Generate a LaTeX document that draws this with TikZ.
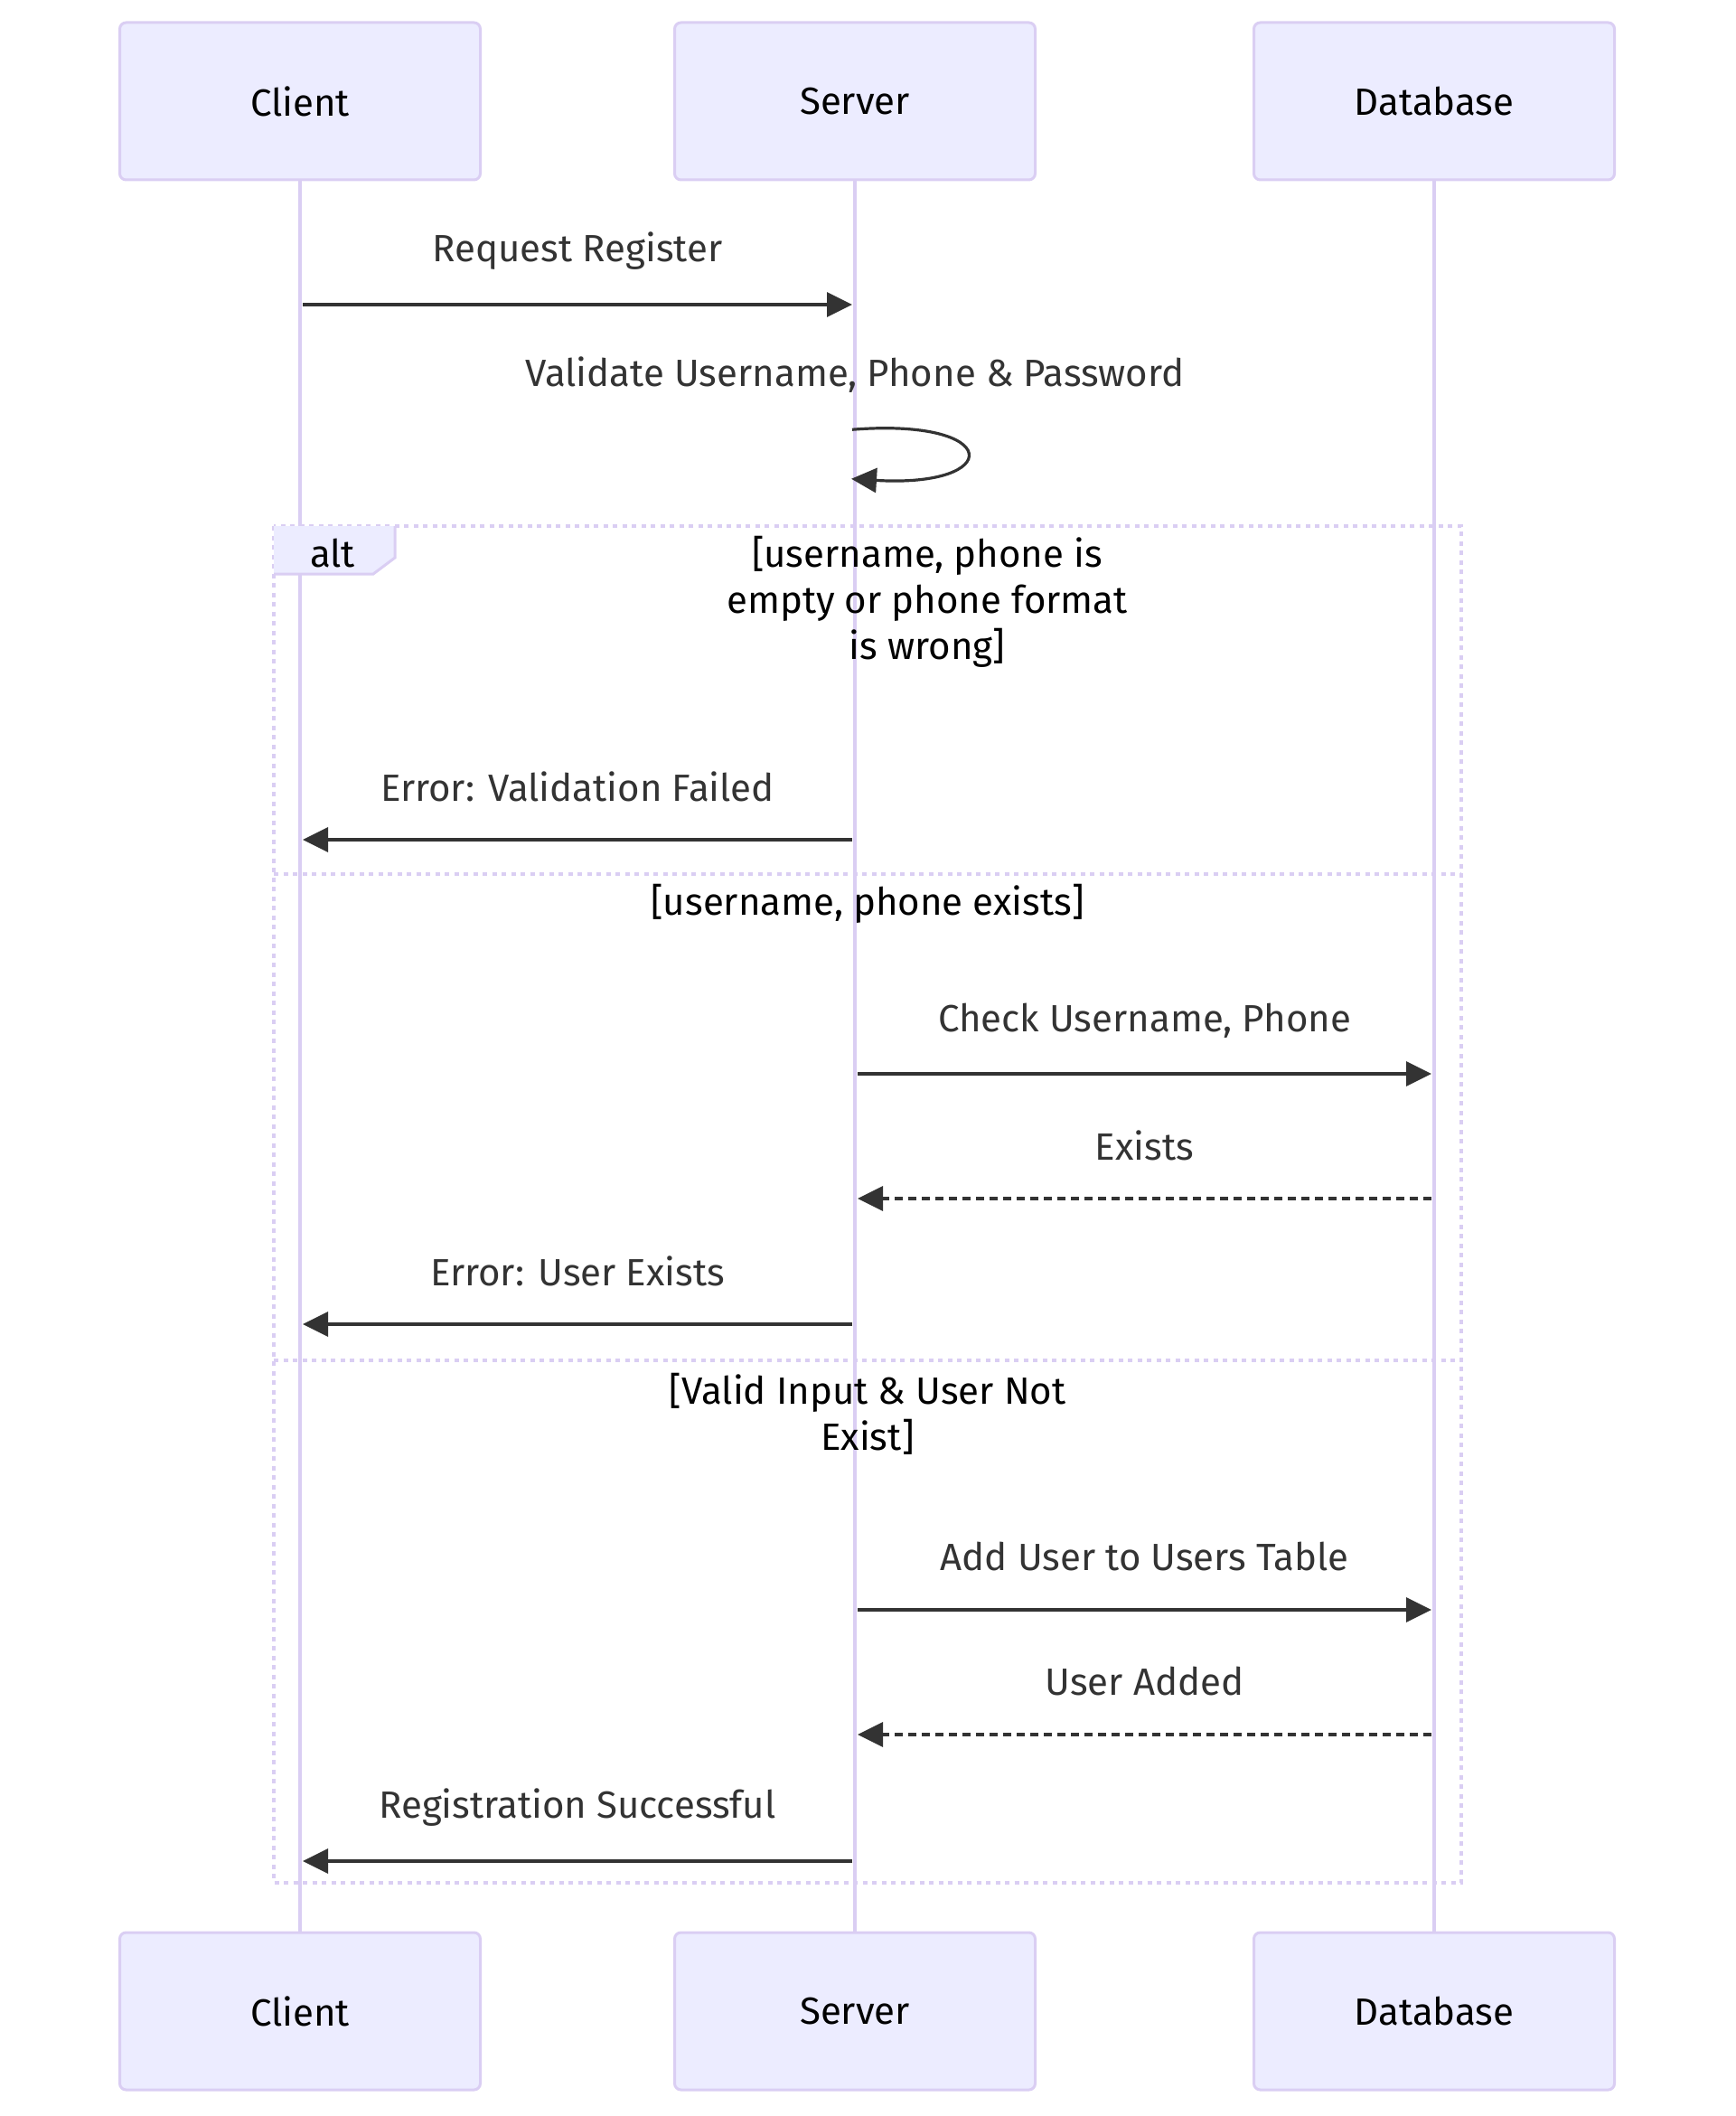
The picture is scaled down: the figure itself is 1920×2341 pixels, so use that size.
\documentclass[tikz,border=0pt]{standalone}
\usepackage{fontspec}
\setmainfont{Fira Sans}
\usetikzlibrary{arrows.meta}
\definecolor{actfill}{HTML}{ECECFF}
\definecolor{actline}{HTML}{DACEF3}
\definecolor{msgcol}{HTML}{333333}

\begin{document}
\begin{tikzpicture}[x=1pt,y=-1pt,
    actor/.style={draw=actline,fill=actfill,line width=3pt,rounded corners=7pt,
      minimum width=399pt,minimum height=174pt,font=\fontsize{42}{51}\selectfont},
    lifeline/.style={draw=actline,line width=4.5pt},
    msg/.style={draw=msgcol,line width=3.2pt,shorten <=3pt,shorten >=3pt,
      -{Triangle[length=28pt,width=27pt]}},
    reply/.style={msg,dash pattern=on 9pt off 6pt},
    lbl/.style={midway,yshift=59pt,text=msgcol,font=\fontsize{42}{51}\selectfont},
    cond/.style={align=center,font=\fontsize{42}{51}\selectfont},
    altframe/.style={draw=actline,line width=4.5pt,dash pattern=on 5pt off 5.5pt}]
    \useasboundingbox (0,0) rectangle (1920,2341);

    \node[actor] (ct) at (332,112) {Client};
    \node[actor] (sv) at (946,112) {Server};
    \node[actor] (db) at (1587,112) {Database};
    \node[actor] (cb) at (332,2225) {Client};
    \node[actor] (sb) at (946,2225) {Server};
    \node[actor] (dbb) at (1587,2225) {Database};
    \foreach \a/\b in {ct/cb,sv/sb,db/dbb} \draw[lifeline] (\a) -- (\b);

    \draw[altframe] (303,582) rectangle (1617,2083);
    \draw[altframe] (303,967) -- (1617,967);
    \draw[altframe] (303,1505) -- (1617,1505);
    \fill[actfill] (303,582) -- (437,582) -- (437,617) -- (413,635) -- (303,635) -- cycle;
    \draw[draw=actline,line width=3pt] (303,635) -- (413,635) -- (437,617) -- (437,582);
    \node[font=\fontsize{42}{51}\selectfont] (alt) at (368,612) {alt};
    \node[cond] (c1) at (1026,666) {[username, phone is\\empty or phone format\\is wrong]};
    \node[cond] (c2) at (960,1000) {[username, phone exists]};
    \node[cond] (c3) at (960,1564) {[Valid Input \& User Not\\Exist]};

    \coordinate (m1) at (0,337);
    \coordinate (m2) at (0,475);
    \coordinate (m2e) at (0,530);
    \coordinate (m3) at (0,929);
    \coordinate (m4) at (0,1188);
    \coordinate (m5) at (0,1326);
    \coordinate (m6) at (0,1465);
    \coordinate (m7) at (0,1781);
    \coordinate (m8) at (0,1919);
    \coordinate (m9) at (0,2059);

    \draw[msg] (ct |- m1) -- (sv |- m1) node[lbl] {Request Register};
    \node[text=msgcol,font=\fontsize{42}{51}\selectfont,yshift=60pt] (vl) at (sv |- m2)
      {Validate Username, Phone \& Password};
    \draw[msg,shorten <=-3pt,shorten >=-4pt] (sv |- m2) .. controls (1111,462) and (1111,540) .. (sv |- m2e);
    \draw[msg] (sv |- m3) -- (ct |- m3) node[lbl] {Error: Validation Failed};
    \draw[msg] (sv |- m4) -- (db |- m4) node[lbl] {Check Username, Phone};
    \draw[reply] (db |- m5) -- (sv |- m5) node[lbl] {Exists};
    \draw[msg] (sv |- m6) -- (ct |- m6) node[lbl] {Error: User Exists};
    \draw[msg] (sv |- m7) -- (db |- m7) node[lbl] {Add User to Users Table};
    \draw[reply] (db |- m8) -- (sv |- m8) node[lbl] {User Added};
    \draw[msg] (sv |- m9) -- (ct |- m9) node[lbl] {Registration Successful};
\end{tikzpicture}
\end{document}
